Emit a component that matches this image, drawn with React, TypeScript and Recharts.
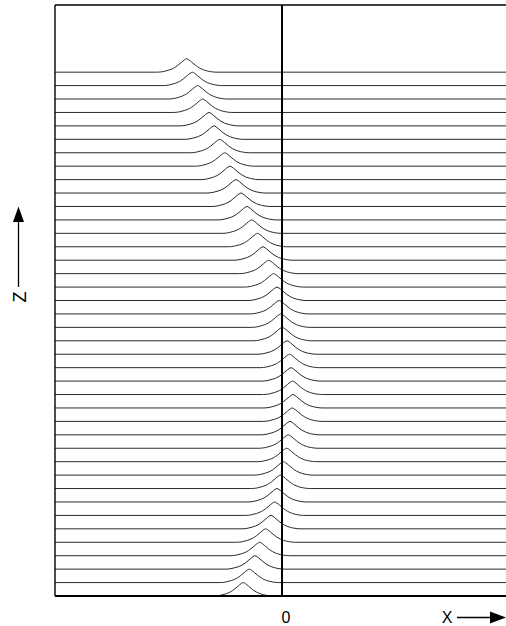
import { LineChart, Line, XAxis, YAxis, ReferenceLine } from "recharts";

// x range of the frame, 0 is the interface line
const X_MIN = -22.7;
const X_MAX = 22.4;

// height of each trace's baseline, top trace first
const zLevels = [
  39, 38, 37, 36, 35, 34, 33, 32, 31, 30, 29, 28, 27, 26, 25, 24, 23, 22, 21, 20,
  19, 18, 17, 16, 15, 14, 13, 12, 11, 10, 9, 8, 7, 6, 5, 4, 3, 2, 1, 0,
];

// x position of the pulse peak in each trace
const peakCentres = [
  -9.53, -8.97, -8.43, -7.93, -7.3, -6.8, -6.23, -5.73, -5.2, -4.6, -4.1, -3.5,
  -3.03, -2.45, -1.9, -1.33, -0.83, -0.5, -0.28, -0.12, 0.03, 0.5, 0.75, 0.9,
  1.05, 1.1, 1.03, 0.8, 0.63, 0.47, 0.15, -0.15, -0.5, -0.73, -1.1, -1.63,
  -2.23, -2.7, -3.27, -3.87,
];

// pulse shape: offsets from the peak and relative height
const pulseOffsets = [-2.9, -2.3, -1.8, -1.3, -0.9, -0.5, -0.2, 0, 0.2, 0.5, 0.9, 1.3, 1.8, 2.3, 2.9];
const pulseShape = [0, 0.05, 0.15, 0.3, 0.5, 0.75, 0.93, 1, 0.93, 0.75, 0.5, 0.3, 0.14, 0.05, 0];
const peakHeight = 1.0;

const traces = peakCentres.map((c, i) => {
  const base = zLevels[i];
  return [
    { x: X_MIN, y: base },
    ...pulseOffsets.map((o, j) => ({ x: c + o, y: base + peakHeight * pulseShape[j] })),
    { x: X_MAX, y: base },
  ];
});

const FONT = "'Liberation Sans', Arial, sans-serif";

const ZLabel = (props: any) => {
  const vb = props.viewBox || { x: 0, y: 5, width: 55, height: 591 };
  const ax = vb.x + 18.5;
  return (
    <g>
      <line x1={ax} y1={287} x2={ax} y2={220} stroke="#000" strokeWidth={1.3} />
      <path d={`M${ax} 206.5 L${ax - 5.5} 222 L${ax + 5.5} 222 Z`} fill="#000" />
      <text
        x={vb.x + 19.5}
        y={297}
        transform={`rotate(-90 ${vb.x + 19.5} 297)`}
        textAnchor="middle"
        dominantBaseline="central"
        fontFamily={FONT}
        fontSize={18}
        fill="#000"
      >
        Z
      </text>
    </g>
  );
};

const XLabel = (props: any) => {
  const vb = props.viewBox || { x: 55, y: 596, width: 451, height: 30 };
  const right = vb.x + vb.width;
  const cy = 617.5;
  return (
    <g>
      <text x={right - 59} y={623} textAnchor="middle" fontFamily={FONT} fontSize={16} fill="#000">
        X
      </text>
      <line x1={right - 49} y1={cy} x2={right - 15} y2={cy} stroke="#000" strokeWidth={1.3} />
      <path d={`M${right} ${cy} L${right - 16} ${cy - 6} L${right - 16} ${cy + 6} Z`} fill="#000" />
    </g>
  );
};

const OriginTick = (props: any) => (
  <text x={props.x + 4} y={623} textAnchor="middle" fontFamily={FONT} fontSize={16} fill="#000">
    0
  </text>
);

export default function App() {
  return (
    <div style={{ position: "absolute", left: 0, top: 0, width: 506, height: 626, overflow: "hidden", background: "#fff" }}>
      <LineChart width={506} height={626} margin={{ top: 5, right: 0, bottom: 0, left: 0 }}>
        <XAxis
          type="number"
          dataKey="x"
          domain={[X_MIN, X_MAX]}
          allowDataOverflow
          ticks={[0]}
          tickLine={false}
          tick={<OriginTick />}
          height={30}
          axisLine={{ stroke: "#000", strokeWidth: 2 }}
          label={<XLabel />}
        />
        <YAxis
          type="number"
          dataKey="y"
          domain={[0, 44]}
          allowDataOverflow
          tick={false}
          tickLine={false}
          width={55}
          axisLine={{ stroke: "#000", strokeWidth: 1.4 }}
          label={<ZLabel />}
        />
        <ReferenceLine y={44} stroke="#000" strokeWidth={1.5} />
        {traces.map((pts, i) => (
          <Line
            key={i}
            data={pts}
            dataKey="y"
            type="monotone"
            stroke="#2b2b2b"
            strokeWidth={1}
            dot={false}
            activeDot={false}
            isAnimationActive={false}
          />
        ))}
        <ReferenceLine x={0} stroke="#000" strokeWidth={2} />
      </LineChart>
    </div>
  );
}
